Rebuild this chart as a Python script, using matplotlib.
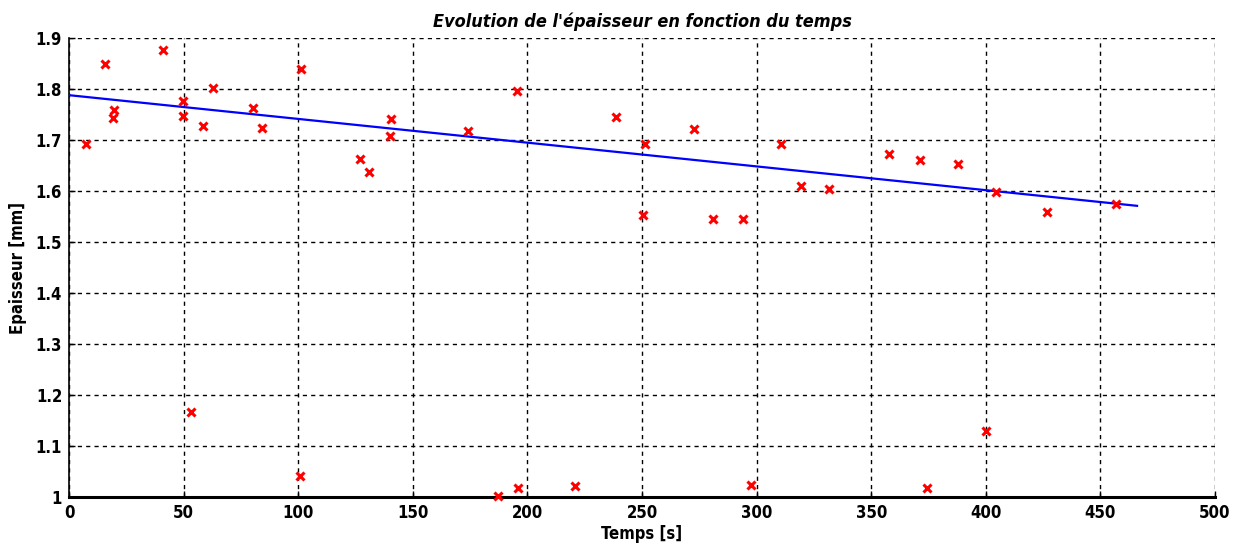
import matplotlib
matplotlib.use("Agg")
import matplotlib.pyplot as plt
import numpy as np

temps = [7.3, 15.6, 19.8, 19.2, 40.9, 49.9, 49.9, 58.6, 62.9, 80.2,
         84.1, 101.0, 126.9, 130.8, 140.4, 139.9, 174.0, 195.3, 238.5,
         272.9, 251.2, 250.5, 280.9, 294.2, 310.5, 319.4, 331.8, 357.9,
         371.3, 388.0, 404.6, 426.8, 456.7,
         53.4, 100.7, 187.2, 196.0, 220.8, 297.7, 374.3, 400.0]
epaisseur = [1.692, 1.849, 1.759, 1.744, 1.876, 1.777, 1.748, 1.727, 1.802, 1.763,
             1.723, 1.839, 1.663, 1.637, 1.742, 1.708, 1.718, 1.797, 1.745,
             1.721, 1.692, 1.554, 1.546, 1.546, 1.693, 1.610, 1.604, 1.673,
             1.661, 1.653, 1.598, 1.559, 1.574,
             1.167, 1.041, 1.002, 1.017, 1.021, 1.023, 1.017, 1.130]

# droite de tendance (extremites lues)
fit_t = [0, 466]
fit_e = [1.788, 1.571]

xticks = list(range(0, 501, 50))
yticks = [1.0, 1.1, 1.2, 1.3, 1.4, 1.5, 1.6, 1.7, 1.8, 1.9]
ytick_labels = ["1", "1.1", "1.2", "1.3", "1.4", "1.5", "1.6", "1.7", "1.8", "1.9"]

plt.rcParams['font.family'] = ['DejaVu Sans']
plt.rcParams['font.stretch'] = 'condensed'

fig = plt.figure(figsize=(12.37, 5.46), dpi=100)
ax = fig.add_axes([0.0558, 0.0897, 0.9264, 0.8406])

ax.plot(fit_t, fit_e, color='blue', linewidth=1.6, zorder=3)
ax.plot(temps, epaisseur, linestyle='none', marker='x', color='red',
        markersize=6, markeredgewidth=2.2, zorder=4, clip_on=False)

ax.set_xlim(0, 500)
ax.set_ylim(1.0, 1.9)
ax.set_xticks(xticks)
ax.set_yticks(yticks)
ax.set_yticklabels(ytick_labels)

ax.grid(True, color='black', linestyle=(0, (3, 3)), linewidth=1.0)
ax.set_axisbelow(True)

ax.spines['top'].set_visible(False)
ax.spines['right'].set_visible(False)
ax.spines['left'].set_linewidth(1.2)
ax.spines['bottom'].set_linewidth(2.2)

ax.tick_params(direction='in', length=4, width=1, labelsize=12, pad=5)
for lab in ax.get_xticklabels() + ax.get_yticklabels():
    lab.set_fontweight('bold')

ax.set_title("Evolution de l'épaisseur en fonction du temps",
             fontsize=13, fontweight='bold', fontstyle='italic', pad=8)
ax.set_xlabel("Temps [s]", fontsize=12, fontweight='bold', labelpad=2)
ax.set_ylabel("Epaisseur [mm]", fontsize=12, fontweight='bold', labelpad=6)

fig.savefig("out.png", dpi=100)
